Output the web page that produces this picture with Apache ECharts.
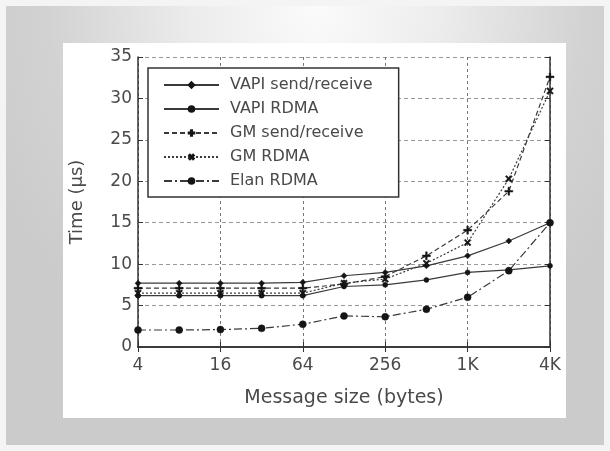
<!DOCTYPE html>
<html>
<head>
<meta charset="utf-8">
<script src="https://cdn.jsdelivr.net/npm/echarts@6/dist/echarts.min.js"></script>
<style>
  html, body { margin: 0; padding: 0; width: 610px; height: 451px; overflow: hidden; background: #f4f4f4; }
  #frame { position: absolute; left: 6px; top: 6px; width: 598px; height: 439px;
    background: radial-gradient(ellipse 60% 90% at 52% 0%, #fbfbfb 0%, #ececec 35%, #d2d2d2 75%, #cbcbcb 100%); }
  #panel { position: absolute; left: 63px; top: 43px; width: 503px; height: 375px; background: #ffffff; }
  #chart { position: absolute; left: 0; top: 0; width: 610px; height: 451px; }
</style>
</head>
<body>
<div id="frame"></div>
<div id="panel"></div>
<div id="chart"></div>
<script>
// Message sizes (bytes)
const categories = ['4', '8', '16', '32', '64', '128', '256', '512', '1K', '2K', '4K'];
// Latency (us)
const vapiSendRecv = [7.7, 7.7, 7.7, 7.7, 7.8, 8.6, 9.0, 9.8, 11.0, 12.8, 15.0];
const vapiRdma     = [6.2, 6.2, 6.2, 6.2, 6.2, 7.3, 7.5, 8.1, 9.0, 9.3, 9.8];
const gmSendRecv   = [7.1, 7.1, 7.1, 7.1, 7.1, 7.6, 8.5, 11.0, 14.1, 18.8, 32.6];
const gmRdma       = [6.5, 6.5, 6.5, 6.5, 6.5, 7.7, 8.2, 10.1, 12.6, 20.3, 30.9];
const elanRdma     = [2.05, 2.05, 2.1, 2.25, 2.75, 3.75, 3.65, 4.55, 6.0, 9.2, 15.0];
const yTicks = [0, 5, 10, 15, 20, 25, 30, 35];

const FONT = 'DejaVu Sans';
const plusPath = 'path://M3.2,0h1.6v8h-1.6z M0,3.2h8v1.6h-8z';

const chart = echarts.init(document.getElementById('chart'), null, { renderer: 'canvas' });

function mkSeries(name, data, lineType, symbol, size, rotate) {
  return {
    name: name, type: 'line', data: data,
    xAxisIndex: 0, yAxisIndex: 0,
    symbol: symbol, symbolSize: size, symbolRotate: rotate || 0,
    showSymbol: true,
    lineStyle: { color: '#3a3a3a', width: 1.2, type: lineType },
    itemStyle: { color: '#151515', borderColor: '#151515', borderWidth: 0.5 },
    animation: false
  };
}

const option = {
  backgroundColor: 'transparent',
  animation: false,
  grid: { left: 138, right: 60, top: 57, bottom: 104, show: false },
  legend: {
    left: 148, top: 68, orient: 'vertical',
    padding: [9, 26, 8, 15],
    itemWidth: 55, itemHeight: 7, itemGap: 8,
    backgroundColor: '#ffffff', borderColor: '#333', borderWidth: 1.5, borderRadius: 0,
    textStyle: { fontFamily: FONT, fontSize: 16, color: '#4a4a4a', padding: [0, 0, 0, 6] },
    data: ['VAPI send/receive', 'VAPI RDMA', 'GM send/receive', 'GM RDMA', 'Elan RDMA']
  },
  xAxis: [{
    type: 'category', data: categories, boundaryGap: false, position: 'bottom',
    axisLine: { show: true, lineStyle: { color: '#333', width: 1.5 } },
    axisTick: { show: true, inside: true, length: 5, interval: 1, lineStyle: { color: '#333' } },
    axisLabel: { interval: 1, margin: 10, fontFamily: FONT, fontSize: 17, color: '#4a4a4a' },
    splitLine: { show: true, interval: 1, lineStyle: { color: '#777', type: [3, 3], width: 1 } },
    name: 'Message size (bytes)', nameLocation: 'middle', nameGap: 42,
    nameTextStyle: { fontFamily: FONT, fontSize: 19, color: '#4a4a4a' }
  }, {
    type: 'category', data: categories, boundaryGap: false, position: 'top',
    axisLine: { show: true, lineStyle: { color: '#333', width: 1.5 } },
    axisTick: { show: true, inside: true, length: 5, interval: 1, lineStyle: { color: '#333' } },
    axisLabel: { show: false }, splitLine: { show: false }
  }],
  yAxis: [{
    type: 'value', min: 0, max: 35, interval: 5, position: 'left',
    axisLine: { show: true, lineStyle: { color: '#333', width: 1.5 } },
    axisTick: { show: true, inside: true, length: 5, lineStyle: { color: '#333' } },
    axisLabel: { margin: 6, fontFamily: FONT, fontSize: 17, color: '#4a4a4a',
      formatter: function (v) { return yTicks.indexOf(v) >= 0 ? String(v) : ''; } },
    splitLine: { show: true, lineStyle: { color: '#999', type: [4, 3], width: 1 } },
    name: 'Time (\u00b5s)', nameLocation: 'middle', nameGap: 52, nameRotate: 90,
    nameTextStyle: { fontFamily: FONT, fontSize: 18, color: '#4a4a4a' }
  }, {
    type: 'value', min: 0, max: 35, interval: 5, position: 'right',
    axisLine: { show: true, lineStyle: { color: '#333', width: 1.5 } },
    axisTick: { show: true, inside: true, length: 5, lineStyle: { color: '#333' } },
    axisLabel: { show: false }, splitLine: { show: false }
  }],
  series: [
    mkSeries('VAPI send/receive', vapiSendRecv, 'solid', 'diamond', 6),
    mkSeries('VAPI RDMA', vapiRdma, 'solid', 'circle', 5),
    mkSeries('GM send/receive', gmSendRecv, [5, 3], plusPath, 8),
    mkSeries('GM RDMA', gmRdma, [2, 2], plusPath, 8, 45),
    mkSeries('Elan RDMA', elanRdma, [8, 3, 2, 3], 'circle', 7)
  ]
};
chart.setOption(option);
</script>
</body>
</html>
